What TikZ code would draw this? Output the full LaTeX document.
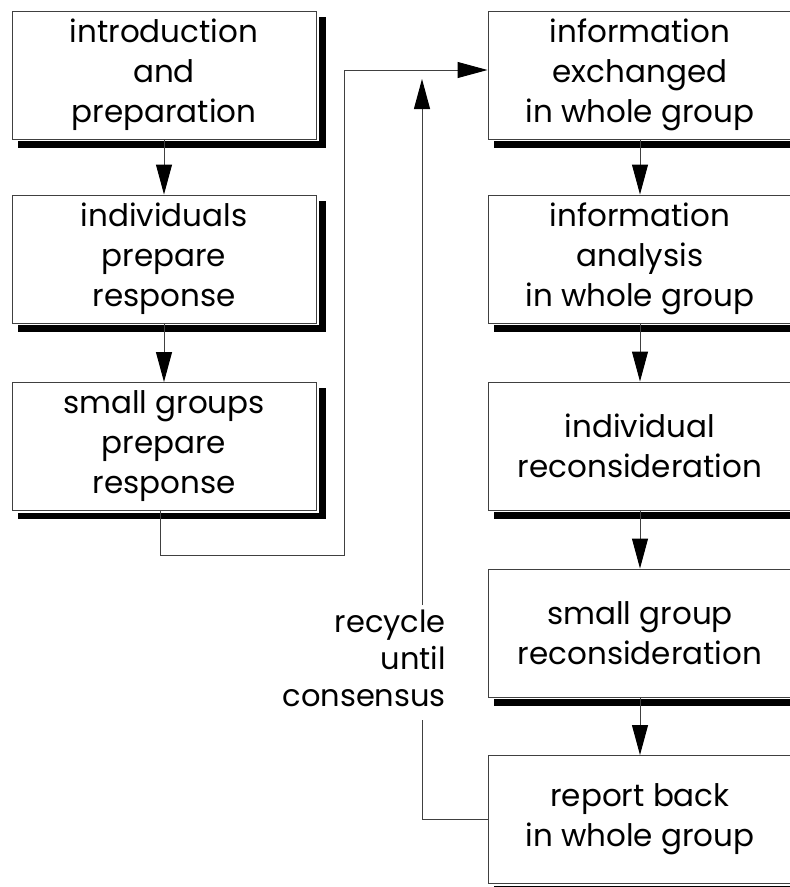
\documentclass[tikz,border=0pt]{standalone}
\usepackage{fontspec}
\setmainfont{Poppins}
\usetikzlibrary{arrows.meta,backgrounds}
\begin{document}
\begin{tikzpicture}[x=1pt,y=-1pt,
  stage/.style={draw=black!75, line width=1pt, fill=white,
    minimum width=304pt, minimum height=128pt, inner sep=0pt,
    align=center, font=\fontsize{31}{40}\selectfont},
  link/.style={draw=black!75, line width=1pt},
  flow/.style={link, -{Triangle[length=30pt,width=16pt,color=black]}},
  note/.style={align=right, inner sep=0pt, font=\fontsize{30.5}{37}\selectfont}]
\useasboundingbox (0,0) rectangle (790,887);

% left column
\node[stage] (b1) at (164,75)    {introduction\\and\\preparation};
\node[stage] (b2) at (164,259)   {individuals\\prepare\\response};
\node[stage] (b3) at (164,446.5) {small groups\\prepare\\response};

% right column
\node[stage] (b4) at (640,75)    {information\\exchanged\\in whole group};
\node[stage] (b5) at (640,259)   {information\\analysis\\in whole group};
\node[stage] (b6) at (640,446)   {individual\\reconsideration};
\node[stage] (b7) at (640,633)   {small group\\reconsideration};
\node[stage] (b8) at (640,819.5) {report back\\in whole group};

% drop shadows with a thin white gap
\begin{scope}[on background layer]
  \foreach \n in {b1,b2,b3,b4,b5,b6,b7,b8}{
    \fill[black] ([shift={(6,6)}]\n.north west) rectangle ([shift={(9,8)}]\n.south east);
    \fill[white] ([shift={(-2,-2)}]\n.north west) rectangle ([shift={(2,1.5)}]\n.south east);
  }
\end{scope}

% recycle label
\node[note, anchor=north east] (lbl) at (446,610)
  {recycle\\until\hspace{12pt}\\consensus\hspace{3pt}};
\coordinate (gapLow) at (422,720);
\coordinate (gapHigh) at (422,605);
\coordinate (turn) at (344,555);

% connectors
\draw[flow] (b1.south) -- (b2.north);
\draw[flow] (b2.south) -- (b3.north);
\draw[flow] (b4.south) -- (b5.north);
\draw[flow] (b5.south) -- (b6.north);
\draw[flow] (b6.south) -- (b7.north);
\draw[flow] (b7.south) -- (b8.north);
\draw[flow] ([xshift=-4pt]b3.south) |- (turn) |- ([yshift=5pt]b4.west);
\draw[link] (b8.west) -| (gapLow);
\draw[flow] (gapHigh) -- (gapHigh |- 0,79);
\end{tikzpicture}
\end{document}
